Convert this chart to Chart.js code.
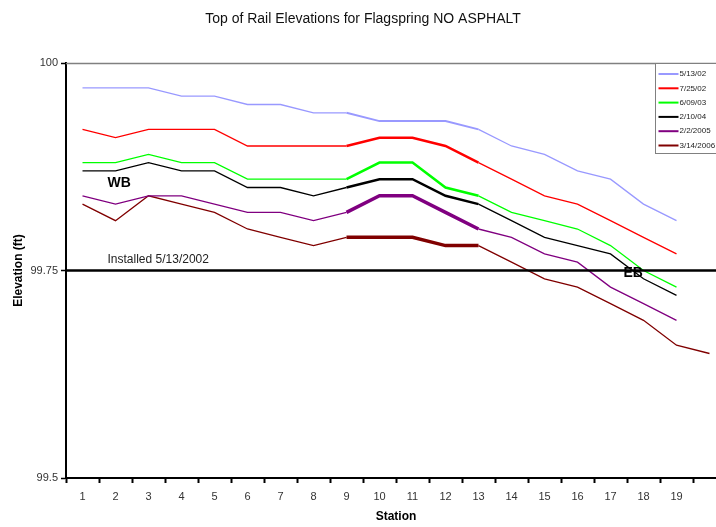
<!DOCTYPE html>
<html>
<head>
<meta charset="utf-8">
<title>Top of Rail Elevations for Flagspring NO ASPHALT</title>
<script src="https://cdn.jsdelivr.net/npm/chart.js@4"></script>
<style>
  html, body { margin: 0; padding: 0; background: #fff; overflow: hidden; }
  #wrap { width: 716px; height: 527px; overflow: hidden; }
</style>
</head>
<body>
<div id="wrap"><canvas id="chart" width="742" height="527"></canvas></div>
<script>
// stations along the track (20th point has no label, it sits at the cropped edge)
const stations = ['1', '2', '3', '4', '5', '6', '7', '8', '9', '10',
  '11', '12', '13', '14', '15', '16', '17', '18', '19', ''];

const surveyDates = ['5/13/02', '7/25/02', '6/09/03', '2/10/04', '2/2/2005', '3/14/2006'];
const lineColors = ['#9999ff', '#ff0000', '#00ff00', '#000000', '#800080', '#800000'];

const elev051302 = [99.97, 99.97, 99.97, 99.96, 99.96, 99.95, 99.95, 99.94, 99.94, 99.93,
  99.93, 99.93, 99.92, 99.90, 99.89, 99.87, 99.86, 99.83, 99.81];
const elev072502 = [99.92, 99.91, 99.92, 99.92, 99.92, 99.90, 99.90, 99.90, 99.90, 99.91,
  99.91, 99.90, 99.88, 99.86, 99.84, 99.83, 99.81, 99.79, 99.77];
const elev060903 = [99.88, 99.88, 99.89, 99.88, 99.88, 99.86, 99.86, 99.86, 99.86, 99.88,
  99.88, 99.85, 99.84, 99.82, 99.81, 99.80, 99.78, 99.75, 99.73];
const elev021004 = [99.87, 99.87, 99.88, 99.87, 99.87, 99.85, 99.85, 99.84, 99.85, 99.86,
  99.86, 99.84, 99.83, 99.81, 99.79, 99.78, 99.77, 99.74, 99.72];
const elev020205 = [99.84, 99.83, 99.84, 99.84, 99.83, 99.82, 99.82, 99.81, 99.82, 99.84,
  99.84, 99.82, 99.80, 99.79, 99.77, 99.76, 99.73, 99.71, 99.69];
const elev031406 = [99.83, 99.81, 99.84, 99.83, 99.82, 99.80, 99.79, 99.78, 99.79, 99.79,
  99.79, 99.78, 99.78, 99.76, 99.74, 99.73, 99.71, 99.69, 99.66, 99.65];

const installedLevel = 99.75;
const yTicks = [99.5, 99.75, 100];

const FONT = '"Liberation Sans", Arial, sans-serif';
const series = [elev051302, elev072502, elev060903, elev021004, elev020205, elev031406];
// stations 9-13 are drawn heavier in the original
const heavyWidths = [2, 2.5, 2.5, 2.5, 3.5, 3.5];

const extras = {
  id: 'extras',
  beforeDatasetsDraw(chart) {
    const { ctx, chartArea: a } = chart;
    ctx.save();
    ctx.strokeStyle = '#808080';
    ctx.lineWidth = 1.5;
    ctx.beginPath();
    ctx.moveTo(a.left, a.top + 0.5);
    ctx.lineTo(a.right, a.top + 0.5);
    ctx.stroke();
    ctx.restore();
  },
  afterDatasetsDraw(chart) {
    const { ctx, chartArea: a, scales: { x, y } } = chart;
    ctx.save();
    const yl = y.getPixelForValue(installedLevel);
    ctx.strokeStyle = '#000';
    ctx.lineWidth = 2.5;
    ctx.beginPath();
    ctx.moveTo(a.left, yl);
    ctx.lineTo(a.right, yl);
    ctx.stroke();

    ctx.fillStyle = '#222';
    ctx.textBaseline = 'middle';
    ctx.font = '12px ' + FONT;
    ctx.fillText('Installed 5/13/2002', x.getPixelForValue(0) + 25, yl - 11);
    ctx.fillStyle = '#000';
    ctx.font = 'bold 14px ' + FONT;
    ctx.fillText('WB', x.getPixelForValue(0) + 25, y.getPixelForValue(99.855));
    ctx.fillText('EB', x.getPixelForValue(17) - 20, yl + 3);

    // legend box, cropped at the right edge like the source
    const lx = 655.5, ly = a.top + 0.5;
    ctx.fillStyle = '#fff';
    ctx.fillRect(lx, ly, 90, 90);
    ctx.strokeStyle = '#808080';
    ctx.lineWidth = 1;
    ctx.strokeRect(lx, ly, 90, 90);
    ctx.font = '8px ' + FONT;
    chart.data.datasets.forEach((ds, i) => {
      const iy = ly + 10.5 + i * 14.3;
      ctx.strokeStyle = ds.borderColor;
      ctx.lineWidth = 2;
      ctx.beginPath();
      ctx.moveTo(lx + 3, iy);
      ctx.lineTo(lx + 23, iy);
      ctx.stroke();
      ctx.fillStyle = '#222';
      ctx.fillText(ds.label, lx + 24, iy);
    });
    ctx.restore();
  }
};

new Chart(document.getElementById('chart'), {
  type: 'line',
  data: {
    labels: stations,
    datasets: series.map((vals, i) => ({
      label: surveyDates[i],
      data: vals,
      borderColor: lineColors[i],
      borderWidth: 1.3,
      pointRadius: 0,
      tension: 0,
      segment: {
        borderWidth: c => (c.p0DataIndex >= 8 && c.p1DataIndex <= 12) ? heavyWidths[i] : 1.3
      }
    }))
  },
  options: {
    responsive: false,
    animation: false,
    layout: { padding: { left: 0, top: 0, right: 16, bottom: 0 } },
    plugins: {
      legend: { display: false },
      tooltip: { enabled: false },
      title: {
        display: true,
        text: 'Top of Rail Elevations for Flagspring NO ASPHALT',
        color: '#111',
        font: { family: FONT, size: 14, weight: 'normal' },
        padding: { top: 11, bottom: 35.2 }
      }
    },
    scales: {
      x: {
        type: 'category',
        offset: true,
        grid: { offset: true, drawOnChartArea: false, tickLength: 5, tickColor: '#000', tickWidth: 2 },
        border: { color: '#000', width: 2 },
        ticks: { color: '#333', font: { family: FONT, size: 11 }, padding: 7, maxRotation: 0, autoSkip: false },
        title: { display: true, text: 'Station', color: '#000', font: { family: FONT, size: 12, weight: 'bold' }, padding: { top: 0, bottom: 3 } },
        afterFit: s => { s.height = 49; }
      },
      y: {
        min: 99.5,
        max: 100,
        afterBuildTicks: s => { s.ticks = yTicks.map(v => ({ value: v })); },
        grid: { drawOnChartArea: false, tickLength: 5, tickColor: '#000', tickWidth: 1.5 },
        border: { color: '#000', width: 2 },
        ticks: { color: '#333', font: { family: FONT, size: 11 }, padding: 3, callback: v => String(v) },
        title: { display: true, text: 'Elevation (ft)', color: '#000', font: { family: FONT, size: 12, weight: 'bold' }, padding: { top: 11, bottom: 0 } },
        afterFit: s => { s.width = 66; }
      }
    }
  },
  plugins: [extras]
});
</script>
</body>
</html>
